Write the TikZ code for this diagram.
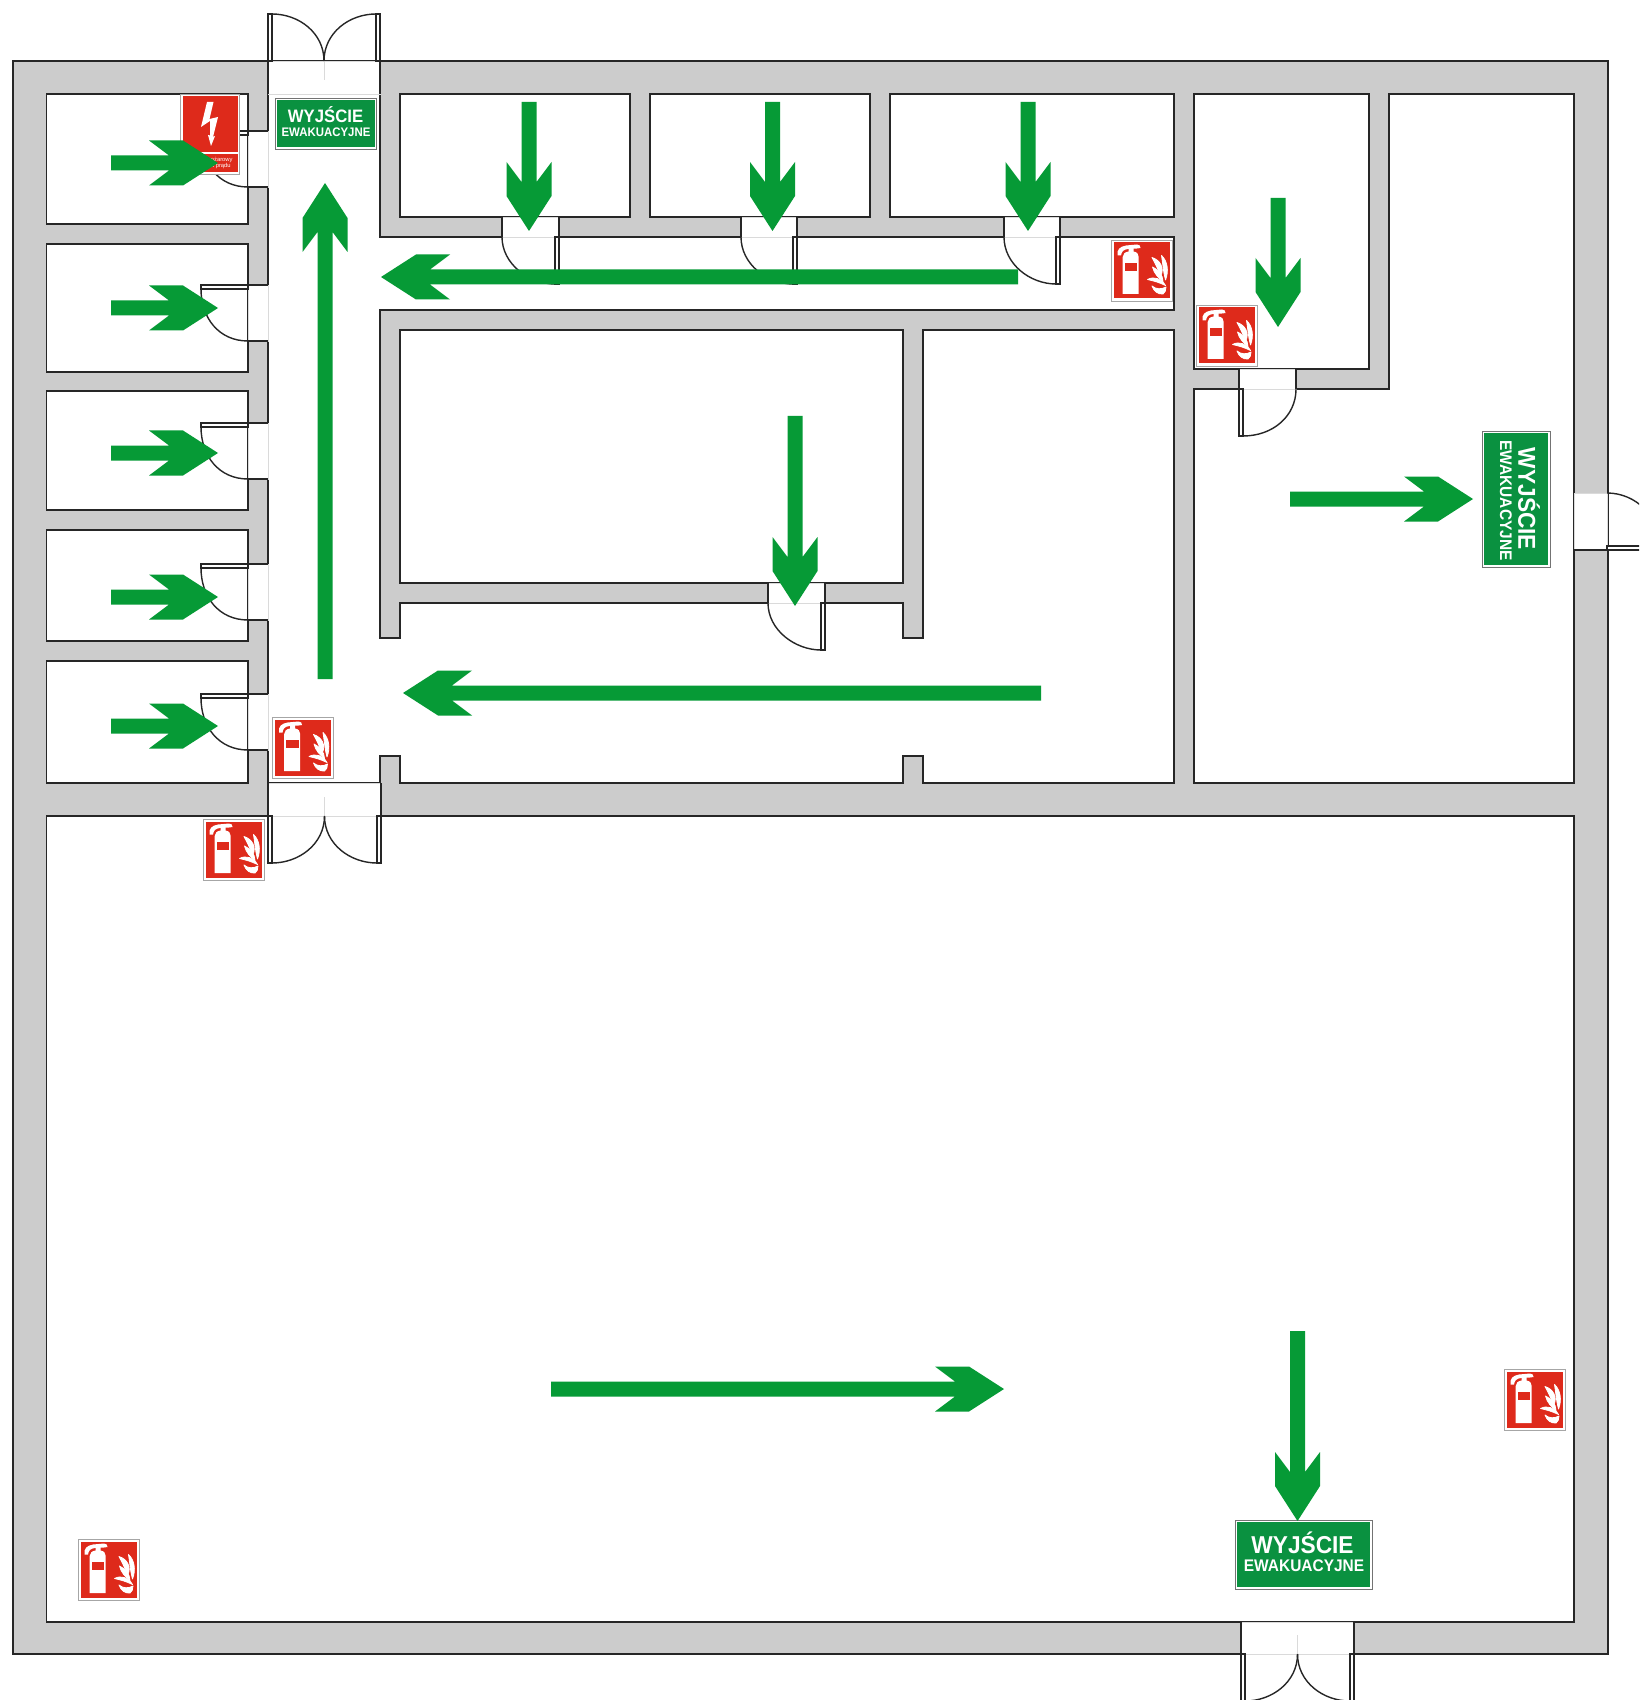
\documentclass[tikz,border=0pt]{standalone}
\usepackage{fontspec}
\setmainfont{Liberation Sans}
\newfontfamily\signfont{Liberation Sans}[FakeStretch=0.93]
\newfontfamily\signsmallfont{Liberation Sans}[FakeStretch=0.92]
\definecolor{wallgray}{HTML}{CCCCCC}
\definecolor{gapline}{HTML}{DADADA}
\definecolor{arrowgreen}{HTML}{069A36}
\definecolor{signgreen}{HTML}{0A9140}
\definecolor{signred}{HTML}{DE2A1B}
\tikzset{
  wall/.style={draw=black!85,line width=0.7pt},
  room/.style={wall,fill=white},
  gaparea/.style={fill=white,draw=gapline,line width=0.35pt},
  greenarrow/.style={fill=arrowgreen,draw=none},
  signedge/.style={fill=white,draw=black!55,line width=0.35pt},
  fireedge/.style={fill=white,draw=black!35,line width=0.35pt},
  whiteink/.style={fill=white,draw=none},
  flameink/.style={fill=white,draw=white,line width=0.4pt,line join=round},
  signtext/.style={text=white,inner sep=0pt,font=\signfont\bfseries},
}
% tip position, rotation, length
\newcommand{\exitarrow}[4]{%
  \fill[greenarrow,shift={(#1,#2)},rotate=#3] (0,0) -- (-35,22.5) -- (-69,22.5) -- (-49,7.5) -- (-#4,7.5) -- (-#4,-7.5) -- (-49,-7.5) -- (-69,-22.5) -- (-35,-22.5) -- cycle;}
% door in the wall left of the corridor
\newcommand{\leftdoor}[1]{%
  \fill[gaparea] (248,#1) rectangle (268,#1+56);
  \draw[wall,fill=white] (201,#1) rectangle (248,#1+4);
  \draw[wall] (248,#1) -- (268,#1);
  \draw[wall] (248,#1+56) -- (268,#1+56);
  \draw[wall] (201,#1+4) .. controls (201,#1+33) and (219,#1+56) .. (248,#1+56);}
% door in a horizontal wall, leaf hinged right: x1, x2, y1, y2
\newcommand{\downdoor}[4]{%
  \fill[gaparea] (#1,#3) rectangle (#2,#4);
  \draw[wall] (#1,#3) -- (#1,#4);
  \draw[wall] (#2,#3) -- (#2,#4);
  \draw[wall,fill=white] (#2-4,#4) rectangle (#2,#4+47);
  \draw[wall] (#1,#4) .. controls (#1,#4+27) and (#2-30,#4+47) .. (#2-4,#4+47);}
% double door: x1, x2, wall inner y, wall outer y, direction
\newcommand{\doubledoor}[5]{%
  \fill[gaparea] (#1,#3) rectangle (#2,#4);
  \draw[wall] (#1,#3) -- (#1,#4);
  \draw[wall] (#2,#3) -- (#2,#4);
  \draw[gapline,line width=0.35pt] ({(#1+#2)/2},#4) -- ({(#1+#2)/2},#4-#5*19);
  \draw[wall,fill=white] (#1,#4) rectangle (#1+4,#4+#5*47);
  \draw[wall,fill=white] (#2-4,#4) rectangle (#2,#4+#5*47);
  \draw[wall] (#1+4,#4+#5*47) .. controls (#1+31,#4+#5*47) and ({(#1+#2)/2},#4+#5*28) .. ({(#1+#2)/2},#4);
  \draw[wall] (#2-4,#4+#5*47) .. controls (#2-31,#4+#5*47) and ({(#1+#2)/2},#4+#5*28) .. ({(#1+#2)/2},#4);}
% fire extinguisher sign, top-left corner
\newcommand{\firesign}[2]{%
  \begin{scope}[shift={(#1,#2)}]
    \draw[fireedge] (0,0) rectangle (61,61);
    \fill[signred] (2.5,2.5) rectangle (58.5,58.5);
    % body and neck
    \fill[whiteink] (11.7,17) .. controls (11.7,14) and (14,12) .. (17.5,11.5) -- (17.5,8) -- (22.5,8) -- (22.5,11.5) .. controls (26,12) and (27.7,14) .. (27.7,17) -- (27.7,54) -- (11.7,54) -- cycle;
    % hose and handle
    \fill[whiteink] (6.5,15.5) .. controls (5.5,9.5) and (9,6.5) .. (15,5.5) -- (26,4.5) .. controls (28.5,4.5) and (29.5,6) .. (29.5,8) -- (26,8.5) -- (17,9) .. controls (12.5,9.5) and (10.5,11.5) .. (10,15.5) -- cycle;
    % band
    \fill[signred] (13.7,23) rectangle (26,30.7);
    % flames
    \filldraw[flameink] (41,17.5) .. controls (49,20) and (54,28) .. (49.5,36.5) .. controls (47.5,30) and (44.5,24) .. (41,17.5) -- cycle;
    \filldraw[flameink] (50.5,15.5) .. controls (56.5,21) and (58,31) .. (54.5,40) .. controls (52.5,33) and (52,25) .. (50.5,15.5) -- cycle;
    \filldraw[flameink] (41.5,27) .. controls (47,29.5) and (52,35) .. (52,41.5) .. controls (47.5,38) and (43,33.5) .. (41.5,27) -- cycle;
    \filldraw[flameink] (36.5,39.5) .. controls (43,36) and (50.5,38.5) .. (54.5,45.5) .. controls (48.5,42.5) and (43,41) .. (36.5,39.5) -- cycle;
    \filldraw[flameink] (41,46) .. controls (45,49.5) and (50.5,49.5) .. (55,47) .. controls (55,50) and (54,53) .. (52,54) .. controls (47,54.5) and (43,51.5) .. (41,46) -- cycle;
  \end{scope}}
\begin{document}
\begin{tikzpicture}[x=0.5pt,y=-0.5pt]
\useasboundingbox (0,0) rectangle (1639,1700);
\clip (0,0) rectangle (1639,1700);
% building shell
\draw[wall,fill=wallgray] (13,61) rectangle (1608,1654);
% left rooms
\draw[room] (46.5,94) rectangle (248,224);
\draw[room] (46.5,244) rectangle (248,372);
\draw[room] (46.5,391) rectangle (248,510);
\draw[room] (46.5,530) rectangle (248,641);
\draw[room] (46.5,661) rectangle (248,783);
% top rooms
\draw[room] (400,94) rectangle (630,217);
\draw[room] (650,94) rectangle (870,217);
\draw[room] (890,94) rectangle (1174,217);
\draw[room] (1194,94) rectangle (1369,369);
% central room
\draw[room] (400,330) rectangle (903,583);
% corridors
\draw[room] (268,94) -- (380,94) -- (380,237) -- (1174,237) -- (1174,310) -- (380,310) -- (380,638) -- (400,638) -- (400,603) -- (903,603) -- (903,638) -- (923,638) -- (923,330) -- (1174,330) -- (1174,783) -- (923,783) -- (923,756) -- (903,756) -- (903,783) -- (400,783) -- (400,756) -- (380,756) -- (380,783) -- (268,783) -- cycle;
% right room
\draw[room] (1389,94) -- (1574,94) -- (1574,783) -- (1194,783) -- (1194,389) -- (1389,389) -- cycle;
% hall
\draw[room] (46.5,816) rectangle (1574,1622);
% doors
\leftdoor{131}
\leftdoor{285}
\leftdoor{423}
\leftdoor{564}
\leftdoor{694}
\downdoor{502}{559}{217}{237}
\downdoor{741}{797}{217}{237}
\downdoor{1004}{1060}{217}{237}
\downdoor{768}{825}{583}{603}
% door of the upper right room, leaf hinged left
\fill[gaparea] (1239,369) rectangle (1296,389);
\draw[wall] (1239,369) -- (1239,389);
\draw[wall] (1296,369) -- (1296,389);
\draw[wall,fill=white] (1239,389) rectangle (1243,436);
\draw[wall] (1296,389) .. controls (1296,416) and (1273,436) .. (1243,436);
% outer door on the right
\fill[gaparea] (1574,493) rectangle (1607,550);
\draw[wall,fill=white] (1607,546) rectangle (1660,550);
\draw[wall] (1574,550) -- (1607,550);
\draw[wall] (1607,493) .. controls (1636,493) and (1660,517) .. (1660,546);
% double doors
\doubledoor{268}{380}{94}{61}{-1}
\doubledoor{268}{381}{783}{816}{1}
\doubledoor{1241}{1354}{1622}{1654}{1}
% fire signs
\firesign{1111}{240}
\firesign{1196}{305}
\firesign{272.5}{717}
\firesign{203}{819}
\firesign{1504}{1369}
\firesign{78}{1539}
% electric sign
\draw[fireedge] (180,94) rectangle (239.5,174);
\fill[signred] (182.5,96) rectangle (237.5,152);
\fill[signred] (182.5,154.5) rectangle (237.5,172);
\fill[whiteink] (207,102) -- (213.5,102) -- (209.5,119) -- (218,117) -- (213,137) -- (215,136) -- (211,146) -- (208,135) -- (210,135.5) -- (210,121) -- (201,127) -- cycle;
\node[text=white,inner sep=0pt,font=\fontsize{2.9}{3.4}\selectfont,align=center] (elecsigntext) at (210,163) {Przeciwpożarowy\\wyłącznik prądu};
% exit signs
\draw[signedge] (275,98) rectangle (376,149);
\fill[signgreen] (277,100) rectangle (374.5,147);
\node[signtext,font=\signfont\bfseries\fontsize{9}{10}\selectfont] (exitatop) at (325.5,115) {WYJŚCIE};
\node[signtext,font=\signsmallfont\bfseries\fontsize{6.2}{7}\selectfont] (exitbtop) at (326,132) {EWAKUACYJNE};
\draw[signedge] (1235,1520) rectangle (1372,1589);
\fill[signgreen] (1237,1522) rectangle (1370,1587);
\node[signtext,font=\signfont\bfseries\fontsize{12.2}{13}\selectfont] (exitahall) at (1302.5,1543) {WYJŚCIE};
\node[signtext,font=\signsmallfont\bfseries\fontsize{8.4}{9}\selectfont] (exitbhall) at (1304,1566) {EWAKUACYJNE};
\draw[signedge] (1482,431) rectangle (1550,567);
\fill[signgreen] (1484,433) rectangle (1548,565);
\node[signtext,rotate=-90,font=\signfont\bfseries\fontsize{12.2}{13}\selectfont] (exitaright) at (1529,499) {WYJŚCIE};
\node[signtext,rotate=-90,font=\signsmallfont\bfseries\fontsize{8.4}{9}\selectfont] (exitbright) at (1506,500.5) {EWAKUACYJNE};
% arrows
\exitarrow{218}{163}{0}{107}
\exitarrow{218}{308}{0}{107}
\exitarrow{218}{453}{0}{107}
\exitarrow{218}{597}{0}{107}
\exitarrow{218}{726}{0}{107}
\exitarrow{325}{183}{90}{496}
\exitarrow{381}{277}{180}{637}
\exitarrow{529}{231}{-90}{129}
\exitarrow{772.5}{231}{-90}{129}
\exitarrow{1028}{231}{-90}{129}
\exitarrow{1278}{327}{-90}{129}
\exitarrow{795}{606}{-90}{190}
\exitarrow{403}{693}{180}{638}
\exitarrow{1473}{499}{0}{183}
\exitarrow{1004}{1389}{0}{453}
\exitarrow{1297.5}{1521}{-90}{190}
\end{tikzpicture}
\end{document}
